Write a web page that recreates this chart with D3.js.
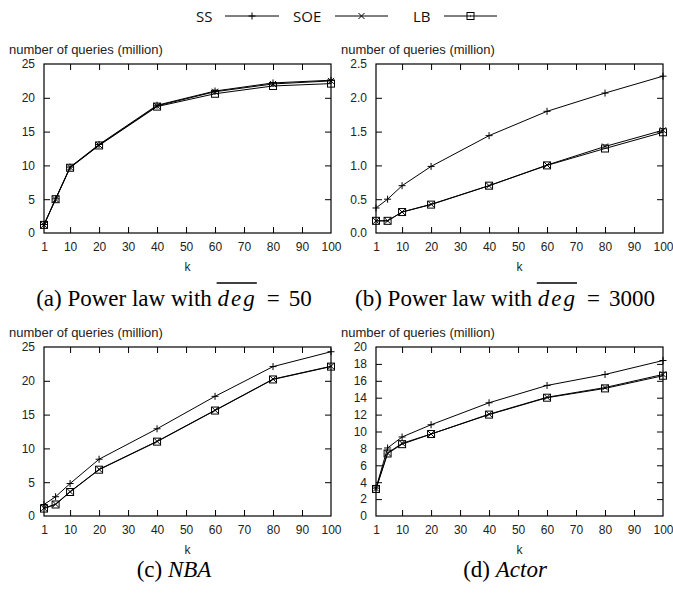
<!DOCTYPE html>
<html>
<head>
<meta charset="utf-8">
<script src="https://cdn.jsdelivr.net/npm/d3@7"></script>
<style>
  body { margin: 0; background: #fff; }
  svg { display: block; }
  .tick text { font-family: "Liberation Sans", Arial, sans-serif; font-size: 12px; fill: #222; }
</style>
</head>
<body>
<div id="chart-area"></div>
<script>
// k values on the x axis
const kValues = [1, 5, 10, 20, 40, 60, 80, 100]
const xTicks = [1, 10, 20, 30, 40, 50, 60, 70, 80, 90, 100]

// (a) power law, avg deg 50
const ssA  = [1.25, 5.05, 9.75, 13.1, 18.9, 21.0, 22.2, 22.6]
const soeA = [1.2, 5.0, 9.7, 13.0, 18.8, 20.9, 22.05, 22.5]
const lbA  = [1.2, 5.0, 9.65, 12.95, 18.7, 20.6, 21.75, 22.1]
const yTicksA = [0, 5, 10, 15, 20, 25]

// (b) power law, avg deg 3000
const ssB  = [0.37, 0.50, 0.70, 0.985, 1.44, 1.80, 2.07, 2.32]
const soeB = [0.18, 0.18, 0.31, 0.425, 0.70, 1.005, 1.28, 1.52]
const lbB  = [0.18, 0.18, 0.31, 0.42, 0.70, 1.0, 1.25, 1.49]
const yTicksB = [0, 0.5, 1, 1.5, 2, 2.5]

// (c) NBA
const ssC  = [1.7, 2.85, 4.8, 8.4, 12.9, 17.7, 22.1, 24.3]
const soeC = [1.15, 1.75, 3.6, 6.9, 11.05, 15.65, 20.25, 22.15]
const lbC  = [1.1, 1.7, 3.55, 6.85, 11.0, 15.6, 20.2, 22.1]
const yTicksC = [0, 5, 10, 15, 20, 25]

// (d) Actor
const ssD  = [3.3, 8.05, 9.35, 10.8, 13.4, 15.45, 16.75, 18.4]
const soeD = [3.25, 7.45, 8.6, 9.7, 12.05, 14.05, 15.2, 16.75]
const lbD  = [3.2, 7.4, 8.5, 9.7, 12.0, 14.0, 15.1, 16.6]
const yTicksD = [0, 2, 4, 6, 8, 10, 12, 14, 16, 18, 20]

const seriesNames = ["SS", "SOE", "LB"]

const W = 673, H = 593
const svg = d3.select("#chart-area").append("svg")
  .attr("width", W)
  .attr("height", H)

const panels = [
  { left: 44, top: 64, series: [ssA, soeA, lbA], yTicks: yTicksA, yMax: 25,
    caption: ["(a) Power law with ", "deg", "50"], capX: 174, capY: 306 },
  { left: 376, top: 64, series: [ssB, soeB, lbB], yTicks: yTicksB, yMax: 2.5,
    caption: ["(b) Power law with ", "deg", "3000"], capX: 505, capY: 306 },
  { left: 44, top: 347, series: [ssC, soeC, lbC], yTicks: yTicksC, yMax: 25,
    caption: ["(c) ", "NBA", ""], capX: 174, capY: 577 },
  { left: 376, top: 347, series: [ssD, soeD, lbD], yTicks: yTicksD, yMax: 20,
    caption: ["(d) ", "Actor", ""], capX: 505, capY: 577 }
]
const PW = 287, PH = 169

// marker drawers
function drawMarker(sel, type, cx, cy) {
  if (type === "SS") {
    sel.append("path").attr("d", `M${cx-3.5},${cy}H${cx+3.5}M${cx},${cy-3.5}V${cy+3.5}`)
      .attr("stroke", "#000").attr("stroke-width", 1)
  } else if (type === "SOE") {
    sel.append("path").attr("d", `M${cx-3},${cy-3}L${cx+3},${cy+3}M${cx-3},${cy+3}L${cx+3},${cy-3}`)
      .attr("stroke", "#000").attr("stroke-width", 1)
  } else {
    sel.append("rect").attr("x", cx-3.5).attr("y", cy-3.5).attr("width", 7).attr("height", 7)
      .attr("fill", "none").attr("stroke", "#000").attr("stroke-width", 1)
    sel.append("rect").attr("x", cx-0.5).attr("y", cy-0.5).attr("width", 1).attr("height", 1)
      .attr("fill", "#000")
  }
}

panels.forEach(p => {
  const g = svg.append("g").attr("transform", `translate(${p.left},${p.top})`)

  const x = d3.scaleLinear().domain([1, 100]).range([0, PW])
  const y = d3.scaleLinear().domain([0, p.yMax]).range([PH, 0])

  // axes, ticks pointing inward (gnuplot style)
  const xAxis = g.append("g").attr("transform", `translate(0,${PH})`)
    .call(d3.axisBottom(x).tickValues(xTicks).tickSizeInner(-6).tickSizeOuter(0).tickPadding(9))
  xAxis.selectAll(".tick").filter(d => d === 1 || d === 100).select("line").remove()

  const yAxis = g.append("g")
    .call(d3.axisLeft(y).tickValues(p.yTicks).tickSizeInner(-6).tickSizeOuter(0).tickPadding(9))
  yAxis.selectAll(".tick").filter((d, i) => i === 0 || i === p.yTicks.length - 1).select("line").remove()

  // mirror ticks top and right
  g.append("g").call(d3.axisTop(x).tickValues(xTicks.slice(1, -1)).tickSizeInner(-6).tickSizeOuter(0).tickFormat(""))
  g.append("g").attr("transform", `translate(${PW},0)`)
    .call(d3.axisRight(y).tickValues(p.yTicks.slice(1, -1)).tickSizeInner(-6).tickSizeOuter(0).tickFormat(""))
  g.selectAll(".domain").remove()
  g.selectAll(".tick line").attr("stroke", "#000")

  g.append("rect").attr("width", PW).attr("height", PH)
    .attr("fill", "none").attr("stroke", "#000").attr("stroke-width", 1.2)

  // labels
  g.append("text")
    .attr("x", -35).attr("y", -10)
    .attr("font-family", "'Liberation Sans', Arial, sans-serif")
    .attr("font-size", "13px")
    .attr("fill", "#222")
    .text("number of queries (million)")

  g.append("text")
    .attr("x", PW / 2).attr("y", PH + 38)
    .attr("text-anchor", "middle")
    .attr("font-family", "'Liberation Sans', Arial, sans-serif")
    .attr("font-size", "12px")
    .attr("fill", "#222")
    .text("k")

  // lines
  const line = d3.line().x((d, i) => x(kValues[i])).y(d => y(d))
  p.series.forEach((vals, si) => {
    g.append("path").datum(vals)
      .attr("d", line)
      .attr("fill", "none")
      .attr("stroke", "#000")
      .attr("stroke-width", 1)
    const mg = g.append("g")
    vals.forEach((v, i) => drawMarker(mg, seriesNames[si], x(kValues[i]), y(v)))
  })

  // caption
  const cap = svg.append("text")
    .attr("x", p.capX).attr("y", p.capY)
    .attr("text-anchor", "middle")
    .attr("font-family", "'Liberation Serif', 'Times New Roman', serif")
    .attr("font-size", "23px")
    .attr("fill", "#000")
  cap.append("tspan").text(p.caption[0])
  const it = cap.append("tspan").attr("font-style", "italic").text(p.caption[1])
  if (p.caption[2]) {
    it.attr("letter-spacing", "2px")
    cap.append("tspan").attr("dx", 10).text("=")
    cap.append("tspan").attr("dx", 9).text(p.caption[2])
  }
  if (p.caption[1] === "deg") {
    const n0 = p.caption[0].length
    const node = cap.node()
    const s = node.getStartPositionOfChar(n0).x
    const e = node.getEndPositionOfChar(n0 + 2).x
    svg.append("line").attr("x1", s - 1).attr("x2", e)
      .attr("y1", p.capY - 23).attr("y2", p.capY - 23)
      .attr("stroke", "#000").attr("stroke-width", 1.5)
  }
})

// legend
const legendItems = [
  { name: "SS", tx: 196, lx1: 225, lx2: 279 },
  { name: "SOE", tx: 293, lx1: 335, lx2: 388 },
  { name: "LB", tx: 413, lx1: 444, lx2: 497 }
]
const lg = svg.append("g")
legendItems.forEach(d => {
  lg.append("text")
    .attr("x", d.tx).attr("y", 22)
    .attr("font-family", "'Open Sans', sans-serif")
    .attr("font-size", "15px")
    .attr("fill", "#111")
    .text(d.name)
  lg.append("line")
    .attr("x1", d.lx1).attr("x2", d.lx2)
    .attr("y1", 16).attr("y2", 16)
    .attr("stroke", "#000").attr("stroke-width", 1)
  drawMarker(lg, d.name, (d.lx1 + d.lx2) / 2, 16)
})
</script>
</body>
</html>
